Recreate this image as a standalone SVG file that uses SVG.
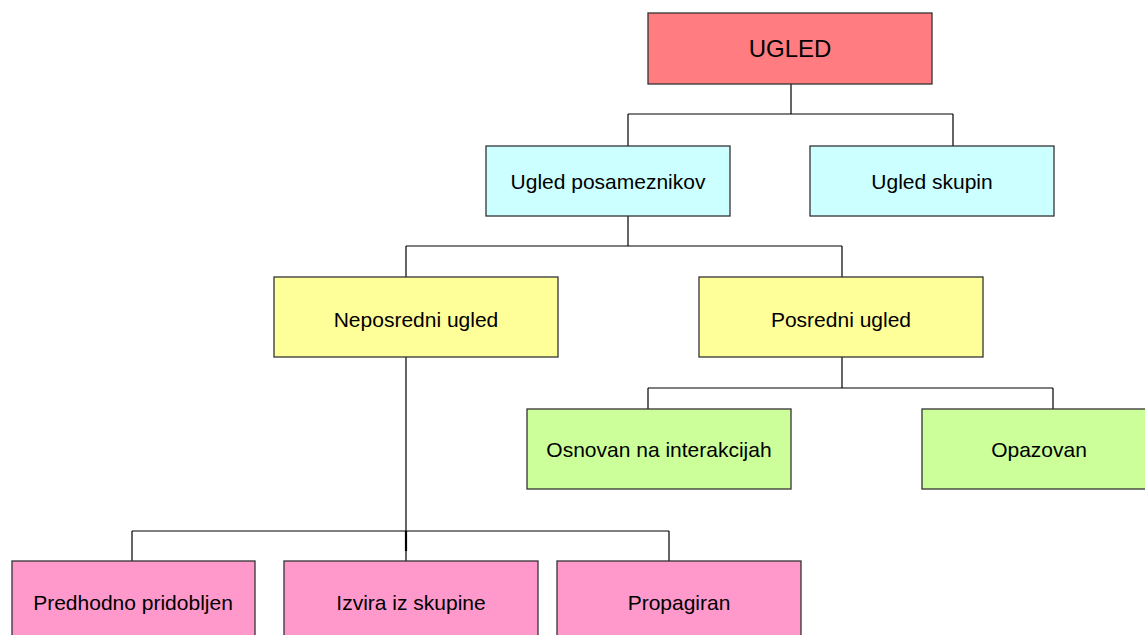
<svg xmlns="http://www.w3.org/2000/svg" width="1145" height="635" viewBox="0 0 1145 635">
<style>
.box{stroke:#333;stroke-width:1.3}
.t{font-family:"Liberation Sans",Arial,sans-serif;font-size:21px;fill:#000;text-anchor:middle}
.c{stroke:#000;stroke-width:1.2;fill:none}
</style>
<rect width="1145" height="635" fill="#fff"/>
<g id="connectors">
<path class="c" d="M791 84V114M628 114H953M628 114V146M953 114V146"/>
<path class="c" d="M628 216V246M406 246H842M406 246V277M842 246V277"/>
<path class="c" d="M842 357V388M648 388H1053M648 388V409M1053 388V409"/>
<path class="c" d="M406 357V561M132 531H669M132 531V561M669 531V561"/>
<path stroke="#000" stroke-width="2.2" d="M406 531V551"/>
</g>
<g id="ugled"><rect class="box" x="648" y="13" width="284" height="71" fill="#FF7C80"/><text class="t" x="790" y="57" style="font-size:24px">UGLED</text></g>
<g id="posamezniki"><rect class="box" x="486" y="146" width="244" height="70" fill="#CCFFFF"/><text class="t" x="608" y="189">Ugled posameznikov</text></g>
<g id="skupine"><rect class="box" x="810" y="146" width="244" height="70" fill="#CCFFFF"/><text class="t" x="932" y="189">Ugled skupin</text></g>
<g id="neposredni"><rect class="box" x="274" y="277" width="284" height="80" fill="#FFFF99"/><text class="t" x="416" y="327">Neposredni ugled</text></g>
<g id="posredni"><rect class="box" x="699" y="277" width="284" height="80" fill="#FFFF99"/><text class="t" x="841" y="327">Posredni ugled</text></g>
<g id="osnovan"><rect class="box" x="527" y="409" width="264" height="80" fill="#CCFF99"/><text class="t" x="659" y="457">Osnovan na interakcijah</text></g>
<g id="opazovan"><rect class="box" x="922" y="409" width="264" height="80" fill="#CCFF99"/><text class="t" x="1039" y="457">Opazovan</text></g>
<g id="predhodno"><rect class="box" x="12" y="561" width="243" height="80" fill="#FF99CC"/><text class="t" x="133" y="610">Predhodno pridobljen</text></g>
<g id="izvira"><rect class="box" x="284" y="561" width="254" height="80" fill="#FF99CC"/><text class="t" x="411" y="610">Izvira iz skupine</text></g>
<g id="propagiran"><rect class="box" x="557" y="561" width="244" height="80" fill="#FF99CC"/><text class="t" x="679" y="610">Propagiran</text></g>
</svg>
